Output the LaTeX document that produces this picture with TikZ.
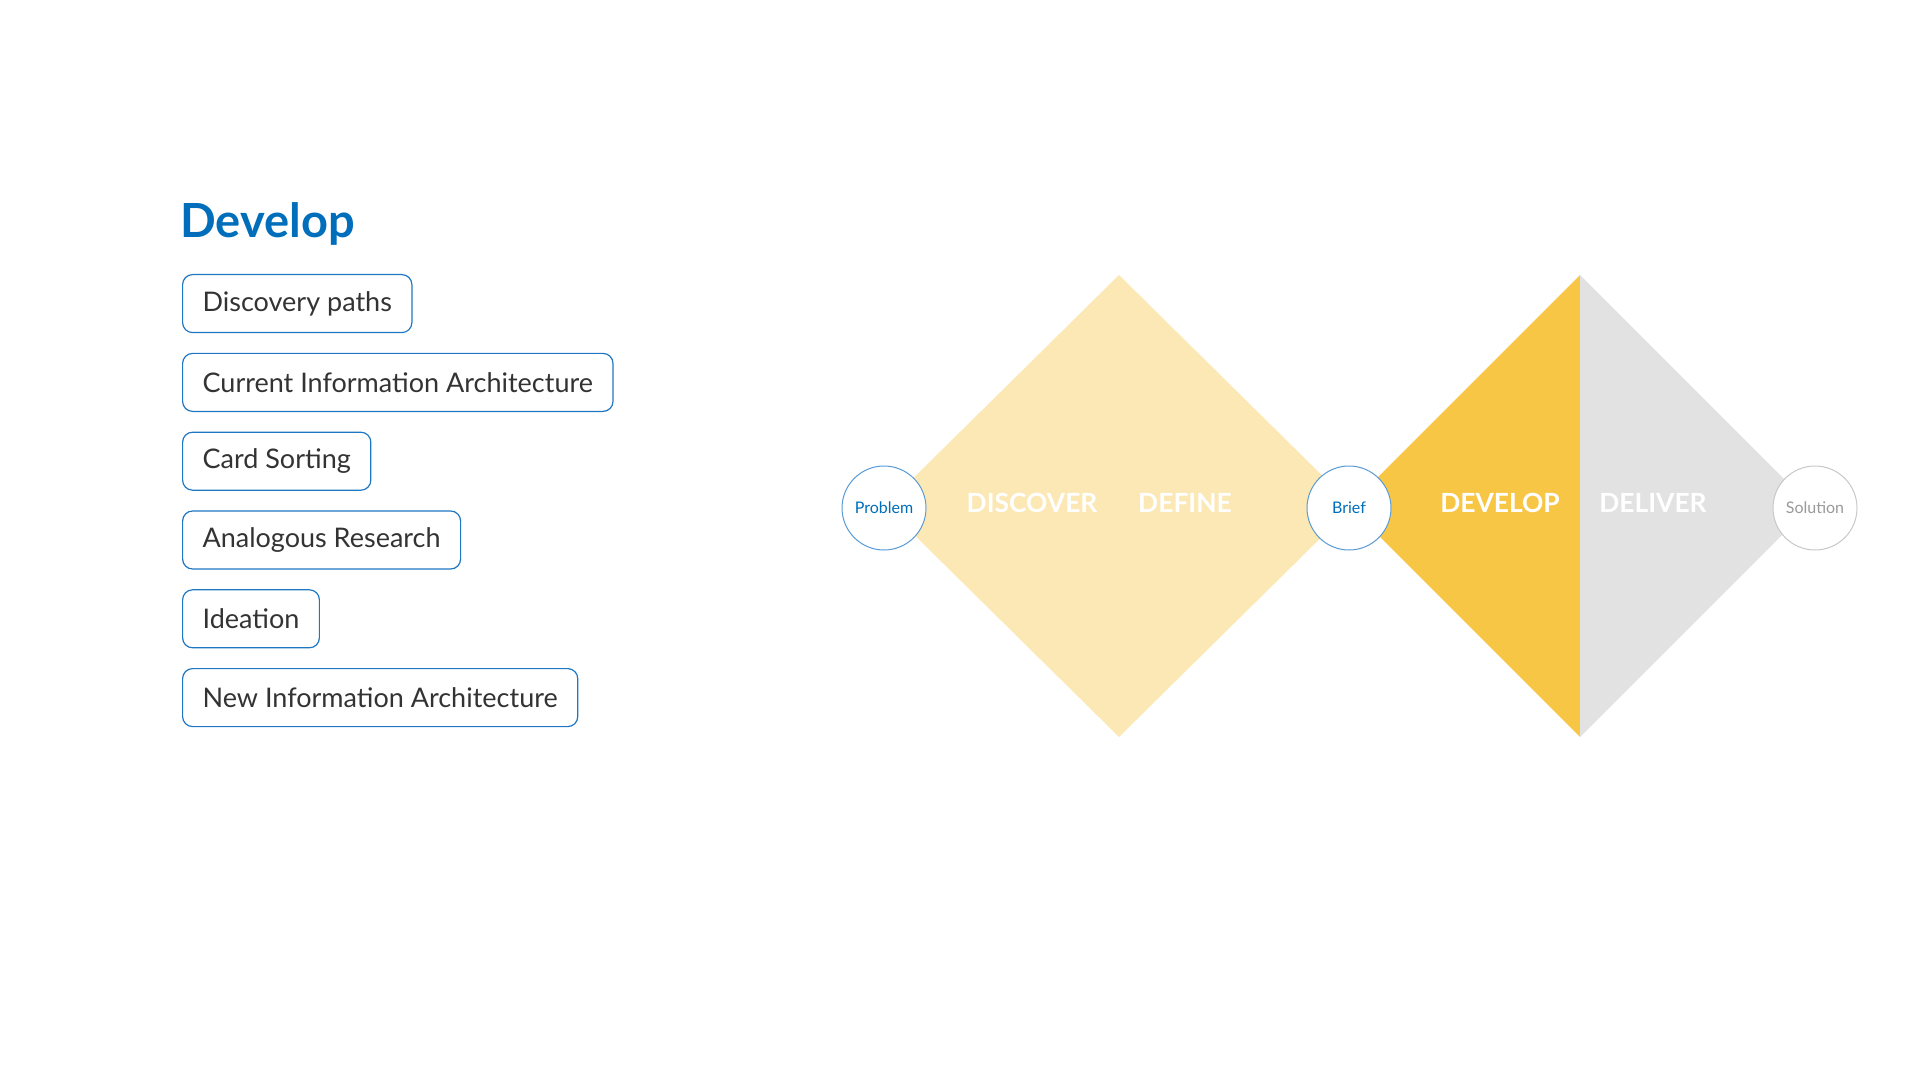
\documentclass[tikz,border=0pt]{standalone}
\usepackage{fontspec}
\setmainfont{Lato}
\usepackage{xcolor}
\usetikzlibrary{positioning}
\definecolor{azblue}{HTML}{006EBB}
\definecolor{azline}{HTML}{1F76C2}
\definecolor{azring}{HTML}{5A9BD5}
\definecolor{azpale}{HTML}{FCE8B4}
\definecolor{azyellow}{HTML}{F7C644}
\definecolor{azgray}{HTML}{E2E2E2}
\definecolor{azgrayring}{HTML}{C8C8C8}
\definecolor{azgraytext}{HTML}{9A9A9A}
\definecolor{aztext}{HTML}{333333}

\begin{document}
\begin{tikzpicture}[
  x=0.5pt, y=-0.5pt,
  item/.style={rectangle, draw=azline, line width=0.6pt, rounded corners=5pt,
               minimum height=29pt, inner xsep=10pt, font=\fontsize{13.5}{15}\selectfont,
               text=aztext},
  ring/.style={circle, draw=azring, line width=0.5pt, fill=white, minimum size=42pt,
               inner sep=0pt, font=\fontsize{8}{10}\selectfont, text=azblue},
  phase/.style={font=\fontsize{13.2}{15}\selectfont\bfseries, text=white},
]
\useasboundingbox (0,0) rectangle (1920,1080);

% Activity list
\node[anchor=west, font=\fontsize{23.5}{28}\selectfont\bfseries, text=azblue, inner sep=0pt] (title) at (180,224) {Develop};
\node[item, anchor=north west] (paths) at (182,274) {Discovery paths};
\node[item, below right=9.8pt and 0pt of paths.south west] (currentia) {Current Information Architecture};
\node[item, below right=9.8pt and 0pt of currentia.south west] (cards) {Card Sorting};
\node[item, below right=9.8pt and 0pt of cards.south west] (analog) {Analogous Research};
\node[item, below right=9.8pt and 0pt of analog.south west] (ideas) {Ideation};
\node[item, below right=9.8pt and 0pt of ideas.south west] (newia) {New Information Architecture};

% Double diamond
\fill[azpale] (885,506) -- (1119,275) -- (1353,506) -- (1119,737) -- cycle;
\fill[azyellow] (1349,506) -- (1580,275) -- (1580,737) -- cycle;
\fill[azgray] (1580,275) -- (1811,506) -- (1580,737) -- cycle;

\node[phase] (discover) at (1032,503) {DISCOVER};
\node[phase] (define) at (1185,503) {DEFINE};
\node[phase] (develop) at (1500,503) {DEVELOP};
\node[phase] (deliver) at (1653,503) {DELIVER};

% Milestones
\node[ring] (problem) at (884,508) {Problem};
\node[ring] (brief) at (1349,508) {Brief};
\node[ring, draw=azgrayring, text=azgraytext] (solution) at (1815,508) {Solution};

\end{tikzpicture}
\end{document}
